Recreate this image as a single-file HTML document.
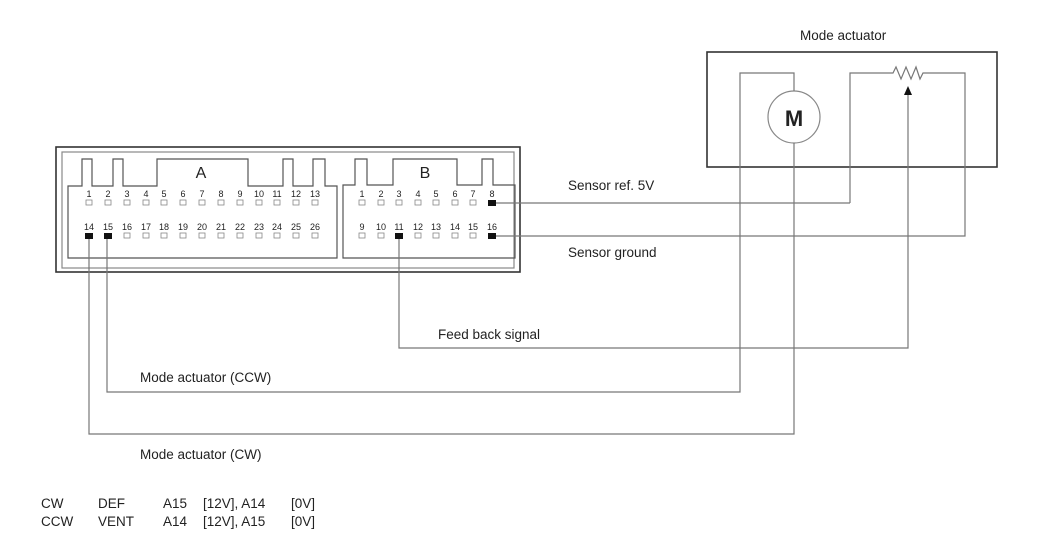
<!DOCTYPE html>
<html><head><meta charset="utf-8"><style>
html,body{margin:0;padding:0;background:#fff;}
svg{display:block;}
text{font-family:"Liberation Sans",Arial,sans-serif;fill:#222;}
.p{font-size:9px;text-anchor:middle;}
.l{font-size:13.5px;}
</style></head><body>
<svg width="1050" height="556" viewBox="0 0 1050 556" xmlns="http://www.w3.org/2000/svg">
<g fill="none" stroke="#555" stroke-width="1.2">
<!-- connector outer -->
<rect x="56" y="147" width="464" height="125" stroke="#333" stroke-width="1.6"/>
<rect x="62" y="152" width="452" height="116" stroke="#888"/>
<!-- block A -->
<path d="M68,258 V186 H82 V159 H92 V186 H113 V159 H123 V186 H157 V159 H248 V186 H283 V159 H293 V186 H313 V159 H325 V186 H337 V258 Z"/>
<!-- block B -->
<path d="M343,258 V185 H355 V159 H367 V185 H393 V159 H457 V185 H482 V159 H493 V185 H515 V258 Z"/>
<!-- actuator box -->
<rect x="707" y="52" width="290" height="115" stroke="#333" stroke-width="1.6"/>
<circle cx="794" cy="117" r="26" stroke="#888"/>
</g>
<g fill="none" stroke="#777" stroke-width="1.2">
<!-- motor wires -->
<path d="M794,91 V73 H740 V392 H107 V236"/>
<path d="M794,143 V434 H89 V236"/>
<!-- resistor -->
<path d="M850,203 V73 H893 L896,67 L901,79 L906,67 L911,79 L916,67 L920,79 L923,73 H965 V236 H492"/>
<path d="M850,203 H492"/>
<path d="M908,94 V348 H399 V236"/>
</g>
<polygon points="908,86 904,95 912,95" fill="#111"/>
<text x="794" y="126" font-size="22" font-weight="bold" text-anchor="middle" style="font-family:'Liberation Sans',sans-serif">M</text>
<text x="800" y="40" class="l">Mode actuator</text>
<text x="201" y="178" font-size="16" text-anchor="middle">A</text>
<text x="425" y="178" font-size="16" text-anchor="middle">B</text>
<!-- A pins row1 -->
<g class="p">
<text x="89" y="197">1</text><text x="108" y="197">2</text><text x="127" y="197">3</text><text x="146" y="197">4</text><text x="164" y="197">5</text><text x="183" y="197">6</text><text x="202" y="197">7</text><text x="221" y="197">8</text><text x="240" y="197">9</text><text x="259" y="197">10</text><text x="277" y="197">11</text><text x="296" y="197">12</text><text x="315" y="197">13</text>
<text x="89" y="230">14</text><text x="108" y="230">15</text><text x="127" y="230">16</text><text x="146" y="230">17</text><text x="164" y="230">18</text><text x="183" y="230">19</text><text x="202" y="230">20</text><text x="221" y="230">21</text><text x="240" y="230">22</text><text x="259" y="230">23</text><text x="277" y="230">24</text><text x="296" y="230">25</text><text x="315" y="230">26</text>
<text x="362" y="197">1</text><text x="381" y="197">2</text><text x="399" y="197">3</text><text x="418" y="197">4</text><text x="436" y="197">5</text><text x="455" y="197">6</text><text x="473" y="197">7</text><text x="492" y="197">8</text>
<text x="362" y="230">9</text><text x="381" y="230">10</text><text x="399" y="230">11</text><text x="418" y="230">12</text><text x="436" y="230">13</text><text x="455" y="230">14</text><text x="473" y="230">15</text><text x="492" y="230">16</text>
</g>
<g fill="#fff" stroke="#888" stroke-width="0.8">
<rect x="86" y="200" width="6" height="5"/><rect x="105" y="200" width="6" height="5"/><rect x="124" y="200" width="6" height="5"/><rect x="143" y="200" width="6" height="5"/><rect x="161" y="200" width="6" height="5"/><rect x="180" y="200" width="6" height="5"/><rect x="199" y="200" width="6" height="5"/><rect x="218" y="200" width="6" height="5"/><rect x="237" y="200" width="6" height="5"/><rect x="256" y="200" width="6" height="5"/><rect x="274" y="200" width="6" height="5"/><rect x="293" y="200" width="6" height="5"/><rect x="312" y="200" width="6" height="5"/>
<rect x="124" y="233" width="6" height="5"/><rect x="143" y="233" width="6" height="5"/><rect x="161" y="233" width="6" height="5"/><rect x="180" y="233" width="6" height="5"/><rect x="199" y="233" width="6" height="5"/><rect x="218" y="233" width="6" height="5"/><rect x="237" y="233" width="6" height="5"/><rect x="256" y="233" width="6" height="5"/><rect x="274" y="233" width="6" height="5"/><rect x="293" y="233" width="6" height="5"/><rect x="312" y="233" width="6" height="5"/>
<rect x="359" y="200" width="6" height="5"/><rect x="378" y="200" width="6" height="5"/><rect x="396" y="200" width="6" height="5"/><rect x="415" y="200" width="6" height="5"/><rect x="433" y="200" width="6" height="5"/><rect x="452" y="200" width="6" height="5"/><rect x="470" y="200" width="6" height="5"/>
<rect x="359" y="233" width="6" height="5"/><rect x="378" y="233" width="6" height="5"/><rect x="415" y="233" width="6" height="5"/><rect x="433" y="233" width="6" height="5"/><rect x="452" y="233" width="6" height="5"/><rect x="470" y="233" width="6" height="5"/>
</g>
<g fill="#111">
<rect x="85" y="233" width="8" height="6"/><rect x="104" y="233" width="8" height="6"/>
<rect x="488" y="200" width="8" height="6"/><rect x="488" y="233" width="8" height="6"/><rect x="395" y="233" width="8" height="6"/>
</g>
<text x="568" y="190" class="l">Sensor ref. 5V</text>
<text x="568" y="257" class="l">Sensor ground</text>
<text x="438" y="339" class="l">Feed back signal</text>
<text x="140" y="382" class="l">Mode actuator (CCW)</text>
<text x="140" y="459" class="l">Mode actuator (CW)</text>
<g class="l">
<text x="41" y="508">CW</text><text x="98" y="508">DEF</text><text x="163" y="508">A15</text><text x="203" y="508">[12V], A14</text><text x="291" y="508">[0V]</text>
<text x="41" y="526">CCW</text><text x="98" y="526">VENT</text><text x="163" y="526">A14</text><text x="203" y="526">[12V], A15</text><text x="291" y="526">[0V]</text>
</g>
</svg>
</body></html>
